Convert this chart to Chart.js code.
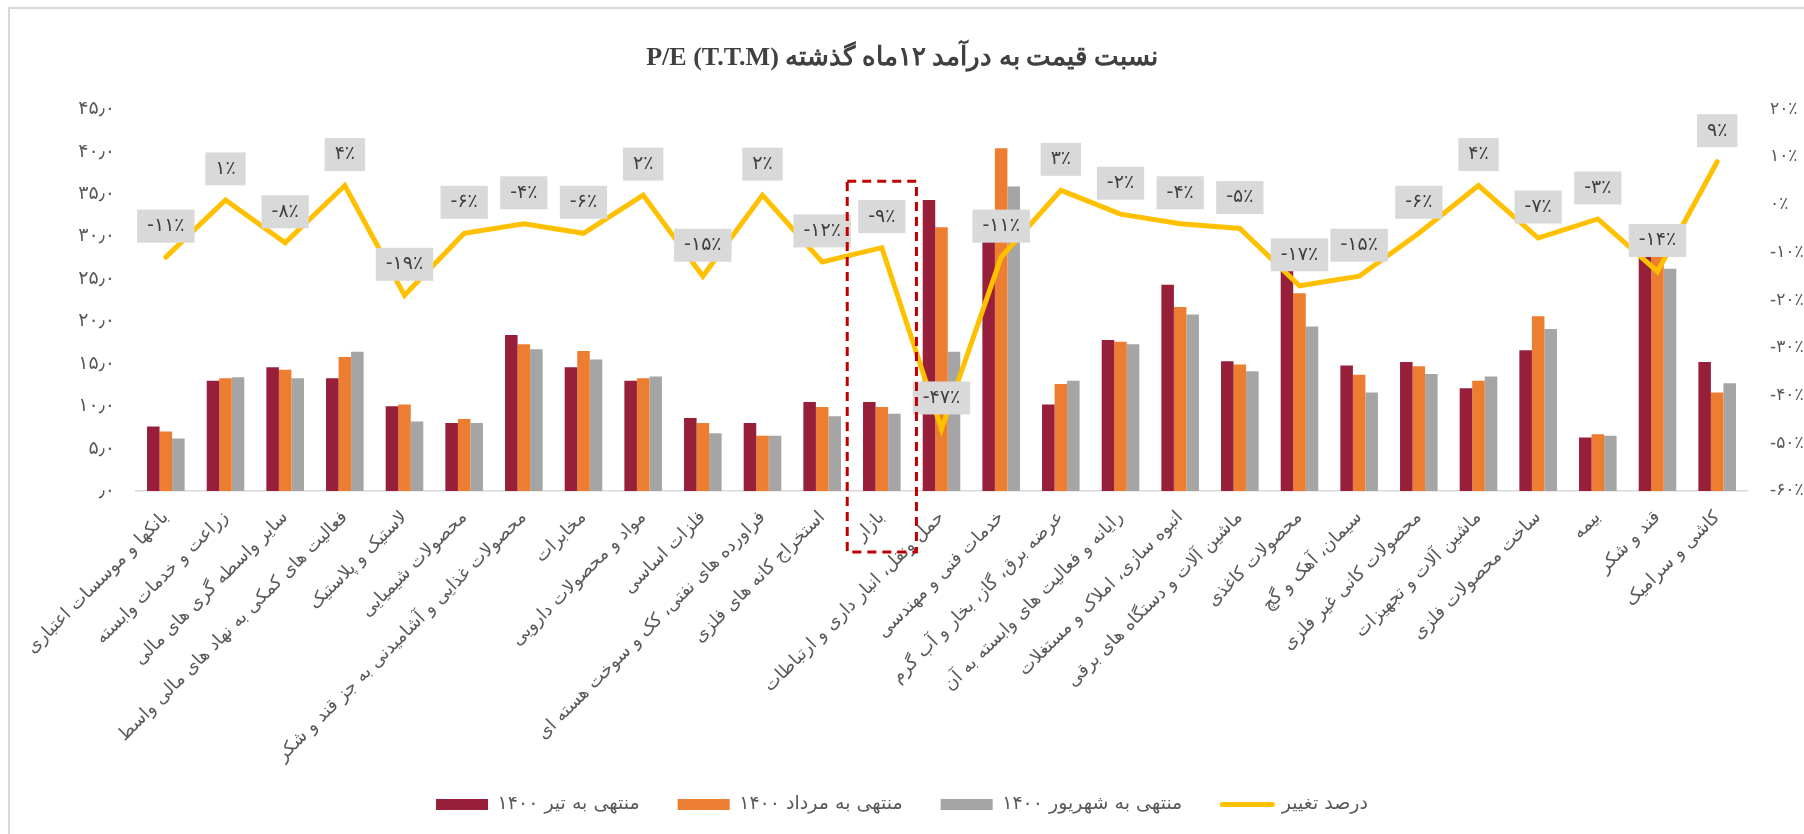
<!DOCTYPE html>
<html>
<head>
<meta charset="utf-8">
<script src="https://cdn.jsdelivr.net/npm/chart.js@4"></script>
<style>
  body { margin: 0; background: #fff; }
  #kadr { position: absolute; left: 8px; top: 7px; width: 1900px; height: 900px;
          border-left: 2px solid #d9d9d9; border-top: 2px solid #d9d9d9; }
  #nemoodar { position: absolute; left: 0; top: 0; }
</style>
</head>
<body>
<div id="kadr"></div>
<canvas id="nemoodar" width="1804" height="834"></canvas>
<script>
// داده ها
const sanaye = [
  "بانکها و موسسات اعتباری", "زراعت و خدمات وابسته", "سایر واسطه گری های مالی",
  "فعالیت های کمکی به نهاد های مالی واسط", "لاستیک و پلاستیک", "محصولات شیمیایی",
  "محصولات غذایی و آشامیدنی به جز قند و شکر", "مخابرات", "مواد و محصولات دارویی",
  "فلزات اساسی", "فراورده های نفتی، کک و سوخت هسته ای", "استخراج کانه های فلزی",
  "بازار", "حمل ونقل، انبار داری و ارتباطات", "خدمات فنی و مهندسی",
  "عرضه برق، گاز، بخار و آب گرم", "رایانه و فعالیت های وابسته به آن",
  "انبوه سازی، املاک و مستغلات", "ماشین آلات و دستگاه های برقی", "محصولات کاغذی",
  "سیمان، آهک و گچ", "محصولات کانی غیر فلزی", "ماشین آلات و تجهیزات",
  "ساخت محصولات فلزی", "بیمه", "قند و شکر", "کاشی و سرامیک"
];
const tir = [7.6, 13.0, 14.6, 13.3, 10.0, 8.0, 18.4, 14.6, 13.0, 8.6, 8.0, 10.5, 10.5, 34.3,
  31.0, 10.2, 17.8, 24.3, 15.3, 27.0, 14.8, 15.2, 12.1, 16.6, 6.3, 29.5, 15.2];
const mordad = [7.0, 13.3, 14.3, 15.8, 10.2, 8.5, 17.3, 16.5, 13.3, 8.0, 6.5, 9.9, 9.9, 31.1,
  40.4, 12.6, 17.6, 21.7, 14.9, 23.3, 13.7, 14.7, 13.0, 20.6, 6.7, 29.0, 11.6];
const shahrivar = [6.2, 13.4, 13.3, 16.4, 8.2, 8.0, 16.7, 15.5, 13.5, 6.8, 6.5, 8.8, 9.1, 16.4,
  35.9, 13.0, 17.3, 20.8, 14.1, 19.4, 11.6, 13.8, 13.5, 19.1, 6.5, 26.2, 12.7];
const taghir = [-11, 1, -8, 4, -19, -6, -4, -6, 2, -15, 2, -12, -9, -47, -11, 3, -2, -4, -5,
  -17, -15, -6, 4, -7, -3, -14, 9];

const barchasbChap = ["٫۰", "۵٫۰", "۱۰٫۰", "۱۵٫۰", "۲۰٫۰", "۲۵٫۰", "۳۰٫۰", "۳۵٫۰", "۴۰٫۰", "۴۵٫۰"];
const barchasbRast = ["-۶۰٪", "-۵۰٪", "-۴۰٪", "-۳۰٪", "-۲۰٪", "-۱۰٪", "۰٪", "۱۰٪", "۲۰٪"];
const namSeri = ["منتهی به تیر ۱۴۰۰", "منتهی به مرداد ۱۴۰۰", "منتهی به شهریور ۱۴۰۰", "درصد تغییر"];
const sotoonBazar = 12; // ستون داخل کادر قرمز

const faDigits = "۰۱۲۳۴۵۶۷۸۹";
function beFarsi(n) {
  return String(n).replace(/\d/g, d => faDigits[d]);
}

const FONT = "'DejaVu Sans', sans-serif";

// برچسب درصد روی خط
const barchasbKhat = {
  id: "barchasbKhat",
  afterDatasetsDraw(chart) {
    const c = chart.ctx;
    const meta = chart.getDatasetMeta(0);
    c.save();
    c.font = "19px " + FONT;
    c.textAlign = "center";
    c.textBaseline = "middle";
    meta.data.forEach((pt, i) => {
      const matn = beFarsi(taghir[i]) + "٪";
      const w = c.measureText(matn).width + 20;
      const h = 33;
      const cy = pt.y - 31;
      c.fillStyle = "#d9d9d9";
      c.fillRect(pt.x - w / 2, cy - h / 2, w, h);
      c.fillStyle = "#404040";
      c.fillText(matn, pt.x, cy);
    });
    c.restore();
  }
};

// برچسب های محور افقی بریده نشوند
const barchasbKamel = {
  id: "barchasbKamel",
  afterLayout(chart) {
    chart.scales.x.bottom = chart.height;
  }
};

// کادر خط چین و خط زرد راهنما
const kadrBazar = {
  id: "kadrBazar",
  afterDraw(chart) {
    const c = chart.ctx;
    const xs = chart.scales.x;
    const ys = chart.scales.y;
    const xm = xs.getPixelForValue(sotoonBazar);
    const nim = xs.width / sanaye.length * 0.58;
    const bala = ys.getPixelForValue(36.5);
    const paeen = chart.chartArea.bottom + 61;
    c.save();
    c.strokeStyle = "#c00000";
    c.lineWidth = 3;
    c.setLineDash([9, 6]);
    c.strokeRect(xm - nim, bala, nim * 2, paeen - bala);
    c.restore();

    const hb = chart.legend.legendHitBoxes[3];
    if (hb) {
      const y = hb.top + hb.height / 2;
      c.save();
      c.strokeStyle = "#ffc000";
      c.lineWidth = 5;
      c.lineCap = "round";
      c.beginPath();
      c.moveTo(hb.left + 2, y);
      c.lineTo(hb.left + 52, y);
      c.stroke();
      c.restore();
    }
  }
};

const chart = new Chart(document.getElementById("nemoodar").getContext("2d"), {
  data: {
    labels: sanaye,
    datasets: [
      { type: "line", label: namSeri[3], data: taghir, yAxisID: "y1", order: 0,
        borderColor: "#ffc000", backgroundColor: "#ffc000", borderWidth: 5,
        pointRadius: 0, tension: 0, borderJoinStyle: "miter", borderCapStyle: "round" },
      { type: "bar", label: namSeri[0], data: tir, yAxisID: "y", order: 1, backgroundColor: "#971f3a" },
      { type: "bar", label: namSeri[1], data: mordad, yAxisID: "y", order: 1, backgroundColor: "#ed7d31" },
      { type: "bar", label: namSeri[2], data: shahrivar, yAxisID: "y", order: 1, backgroundColor: "#a5a5a5" }
    ]
  },
  options: {
    responsive: false,
    animation: false,
    devicePixelRatio: 1,
    layout: { padding: { left: 0, right: 0, top: 10, bottom: 10 } },
    datasets: { bar: { categoryPercentage: 0.63, barPercentage: 1.0 } },
    plugins: {
      tooltip: { enabled: false },
      title: {
        display: true,
        text: "P/E (T.T.M) نسبت قیمت به درآمد ۱۲ماه گذشته",
        color: "#404040",
        font: { family: "'Liberation Serif', 'DejaVu Serif', serif", size: 26, weight: "bold" },
        padding: { top: 33, bottom: 35 }
      },
      legend: {
        position: "bottom",
        labels: {
          color: "#595959",
          font: { family: FONT, size: 19 },
          boxWidth: 52,
          boxHeight: 11,
          padding: 38,
          sort: (a, b) => (a.datasetIndex === 0 ? 1 : 0) - (b.datasetIndex === 0 ? 1 : 0),
          generateLabels(chart) {
            const items = Chart.defaults.plugins.legend.labels.generateLabels(chart);
            items.forEach(it => {
              if (it.datasetIndex === 0) {
                it.fillStyle = "rgba(0,0,0,0)";
                it.strokeStyle = "rgba(0,0,0,0)";
                it.lineWidth = 0;
              }
            });
            return items;
          }
        }
      }
    },
    scales: {
      x: {
        grid: { display: false },
        border: { display: true, color: "#d9d9d9", width: 1.5 },
        ticks: {
          color: "#595959", font: { family: FONT, size: 18 },
          maxRotation: 45, minRotation: 45, autoSkip: false, padding: 8
        },
        afterFit(s) { s.height = 266; }
      },
      y: {
        position: "left", min: 0, max: 45,
        grid: { display: false },
        border: { display: false },
        ticks: {
          stepSize: 5, color: "#595959", font: { family: FONT, size: 19 }, padding: 13,
          callback: (v, i) => barchasbChap[i]
        },
        afterFit(s) { s.width = 136; }
      },
      y1: {
        position: "right", min: -60, max: 20,
        grid: { display: false },
        border: { display: false },
        ticks: {
          stepSize: 10, color: "#595959", font: { family: FONT, size: 17 }, padding: 15,
          callback: (v, i) => barchasbRast[i]
        },
        afterFit(s) { s.width = 57; }
      }
    }
  },
  plugins: [barchasbKhat, barchasbKamel, kadrBazar]
});
</script>
</body>
</html>
